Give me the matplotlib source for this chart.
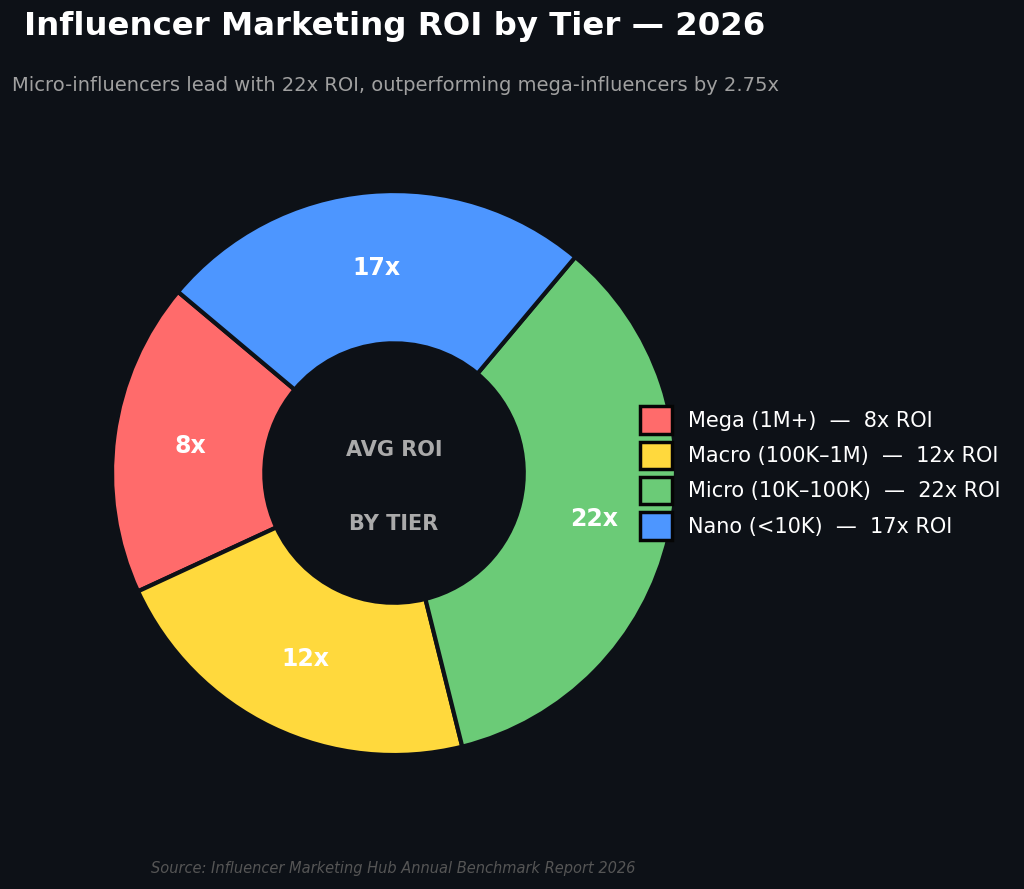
import numpy as np
import matplotlib
matplotlib.use("Agg")
import matplotlib.pyplot as plt

BG = "#0d1117"

tiers = ["Mega (1M+)", "Macro (100K–1M)", "Micro (10K–100K)", "Nano (<10K)"]
roi = [8, 12, 22, 17]
share = [18, 22, 35, 25]
colors = ["#ff6b6b", "#ffd93d", "#6bcb77", "#4d96ff"]

plt.rcParams["font.family"] = ["DejaVu Sans"]

fig = plt.figure(figsize=(10.24, 8.89), dpi=100, facecolor=BG)
ax = fig.add_axes([0.1094, 0.1507, 0.5508, 0.6344])
ax.set_facecolor(BG)

wedges, _ = ax.pie(
    share,
    colors=colors,
    startangle=140,
    radius=1.0,
    wedgeprops=dict(width=0.54, edgecolor=BG, linewidth=3),
)
ax.set_xlim(-1, 1)
ax.set_ylim(-1, 1)
ax.set_aspect("equal")
ax.axis("off")

for w, r in zip(wedges, roi):
    ang = np.deg2rad((w.theta1 + w.theta2) / 2)
    ax.text(0.73 * np.cos(ang), 0.73 * np.sin(ang), f"{r}x",
            ha="center", va="center", color="white",
            fontsize=17, fontweight="bold")

ax.text(0, 0.08, "AVG ROI", ha="center", va="center",
        color="#aaaaaa", fontsize=15, fontweight="bold")
ax.text(0, -0.18, "BY TIER", ha="center", va="center",
        color="#aaaaaa", fontsize=15, fontweight="bold")

labels = [f"{t}  —  {r}x ROI" for t, r in zip(tiers, roi)]
leg = fig.legend(
    wedges, labels,
    loc="center left",
    bbox_to_anchor=(0.617, 0.468),
    borderaxespad=0,
    frameon=False,
    fontsize=15,
    labelcolor="white",
    handlelength=1.55,
    handleheight=1.65,
    handletextpad=0.77,
    labelspacing=0.38,
)
for h in leg.legend_handles:
    h.set_edgecolor("#050505")
    h.set_linewidth(2.5)

fig.text(0.023, 0.970, "Influencer Marketing ROI by Tier — 2026",
         ha="left", va="center", color="white",
         fontsize=23.3, fontweight="bold")
fig.text(0.012, 0.904,
         "Micro-influencers lead with 22x ROI, outperforming mega-influencers by 2.75x",
         ha="left", va="center", color="#a0a0a0", fontsize=14)
fig.text(0.384, 0.023,
         "Source: Influencer Marketing Hub Annual Benchmark Report 2026",
         ha="center", va="center", color="#555555", fontsize=10.5, style="italic")

fig.savefig("out.png", dpi=100, facecolor=BG)
